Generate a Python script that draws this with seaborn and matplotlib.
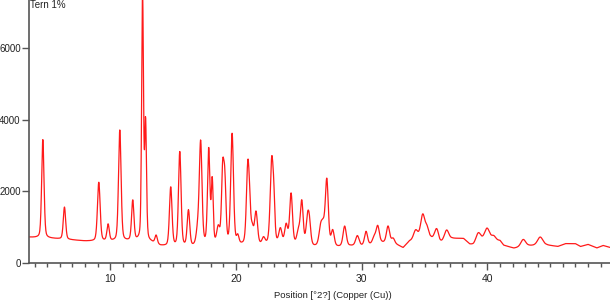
import numpy as np
import pandas as pd
import matplotlib
matplotlib.use("Agg")
import matplotlib.pyplot as plt
from matplotlib.ticker import MultipleLocator, FixedLocator
import seaborn as sns

# ---- data ----
# background knots (2theta, counts)
bg_pos = [3.5, 4.3, 5.5, 7.0, 8.0, 9.0, 10.5, 11.5, 12.3, 13.3, 14.0, 14.6, 16.5, 17.5, 19.5,
          20.4, 22.0, 23.3, 24.7, 26.2, 28.2, 29.1, 30.0, 30.6, 31.6, 32.6, 33.3, 33.8, 34.5,
          35.5, 36.2, 36.5, 37.2, 38.1, 38.6, 38.9, 39.5, 40.4, 41.0, 41.3, 42.1, 43.3, 44.7,
          45.6, 46.2, 47.0, 47.4, 48.0, 48.7, 49.2, 49.8]
bg_val = [720, 700, 680, 640, 610, 600, 600, 600, 600, 560, 470, 450, 430, 480, 480,
          480, 480, 520, 500, 440, 440, 470, 470, 500, 560, 540, 420, 600, 640,
          680, 520, 600, 680, 680, 520, 500, 580, 600, 620, 490, 410, 480, 500,
          460, 540, 540, 460, 520, 420, 490, 430]

# peaks: position (deg 2theta), net height (counts), FWHM (deg)
peak_pos = [4.65, 6.37, 9.10, 9.84, 10.77, 11.80, 12.58, 12.82, 13.66, 14.82, 15.54, 16.23,
            16.97, 17.20, 17.84, 18.12, 18.60, 18.95, 19.12, 19.70, 20.15, 20.95, 21.10, 21.30,
            21.60, 22.20, 22.85, 23.02, 23.54, 24.00, 24.39, 24.97, 25.24, 25.70, 25.85, 26.75,
            26.95, 27.23, 27.70, 28.65, 29.66, 30.35, 31.00, 31.28, 32.10, 32.50, 34.30, 34.86,
            35.20, 35.97, 36.76, 39.28, 39.97, 40.50, 42.85, 44.20]
peak_height = [2750, 900, 1650, 460, 3100, 1120, 6900, 3250, 230, 1650, 2650, 1000,
               420, 2850, 2650, 1750, 450, 1950, 1650, 3100, 220, 2200, 650, 400,
               900, 180, 2300, 850, 400, 520, 1400, 350, 1200, 700, 520, 520,
               420, 1850, 430, 560, 280, 380, 180, 470, 470, 130, 270, 680,
               260, 370, 280, 280, 370, 130, 200, 230]
peak_fwhm = [0.22, 0.22, 0.25, 0.22, 0.24, 0.22, 0.17, 0.17, 0.22, 0.24, 0.24, 0.24,
             0.28, 0.25, 0.22, 0.18, 0.28, 0.22, 0.22, 0.26, 0.22, 0.26, 0.20, 0.22,
             0.28, 0.28, 0.28, 0.20, 0.28, 0.28, 0.26, 0.28, 0.26, 0.28, 0.26, 0.32,
             0.28, 0.28, 0.28, 0.30, 0.32, 0.28, 0.32, 0.30, 0.30, 0.28, 0.40, 0.40,
             0.32, 0.40, 0.40, 0.45, 0.50, 0.40, 0.45, 0.50]

title_text = "Tern 1%"
x_label = "Position [°2?] (Copper (Cu))"
y_ticks = [0, 2000, 4000, 6000]
x_major = [10, 20, 30, 40]

# ---- build the pattern from the peak list ----
tt = np.arange(3.55, 49.8, 0.02)
inten = np.interp(tt, bg_pos, bg_val).astype(float)
for p, h, w in zip(peak_pos, peak_height, peak_fwhm):
    hw = w / 2.0
    lor = 1.0 / (1.0 + ((tt - p) / hw) ** 2)
    gau = np.exp(-np.log(2) * ((tt - p) / hw) ** 2)
    inten += h * (0.3 * lor + 0.7 * gau)
df = pd.DataFrame({"pos": tt, "counts": inten})

# ---- figure ----
sns.set_style("ticks")
plt.rcParams["font.family"] = ["Liberation Sans", "DejaVu Sans"]
W, H = 610, 308
fig = plt.figure(figsize=(W / 100, H / 100), dpi=100)
ax = fig.add_axes([29 / W, (H - 263) / H, 1 - 29 / W, 263 / H])

sns.lineplot(data=df, x="pos", y="counts", ax=ax, color="#ff1a1a", linewidth=0.9)

ax.set_xlim(3.55, 49.75)
ax.set_ylim(0, 7350)
ax.xaxis.set_major_locator(FixedLocator(x_major))
ax.xaxis.set_minor_locator(MultipleLocator(1))
ax.yaxis.set_major_locator(FixedLocator(y_ticks))
ax.tick_params(axis="y", which="major", length=5, width=1, color="#555555",
               labelsize=7, labelcolor="#222222", pad=1)
ax.tick_params(axis="x", which="major", length=5, width=1, color="#555555",
               labelsize=7.5, labelcolor="#222222", pad=3)
ax.tick_params(axis="x", which="minor", length=3, width=1, color="#555555")
for s in ["top", "right"]:
    ax.spines[s].set_visible(False)
for s in ["left", "bottom"]:
    ax.spines[s].set_color("#555555")
    ax.spines[s].set_linewidth(1.2)
ax.set_xlabel("")
ax.set_ylabel("")

fig.text(333 / W, 1 - 295 / H, x_label, ha="center", va="center", fontsize=6.8,
         color="#222222")
fig.text(30 / W, 1 - 7.5 / H, title_text, ha="left", va="baseline", fontsize=7,
         color="#222222")

fig.savefig("out.png", dpi=100)
